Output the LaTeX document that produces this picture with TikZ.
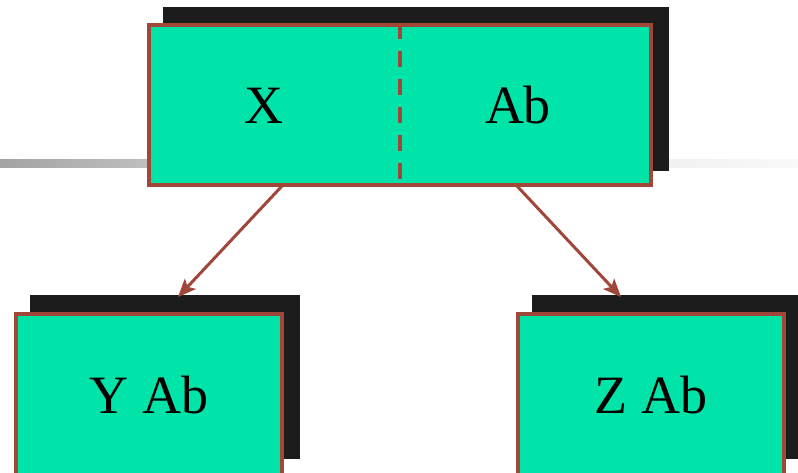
\documentclass[tikz,border=0pt]{standalone}
\usepackage{fontspec}
\setmainfont{Liberation Serif}
\usetikzlibrary{arrows.meta}
\definecolor{boxfill}{HTML}{00E4AA}
\definecolor{boxedge}{HTML}{A0473A}
\definecolor{shadowc}{HTML}{1C1C1C}
\definecolor{railA}{HTML}{A3A3A3}
\definecolor{railB}{HTML}{BFBFBF}
\definecolor{railC}{HTML}{F1F1F1}
\definecolor{railD}{HTML}{F9F9F9}
\tikzset{
  boxnode/.style={rectangle, draw=boxedge, fill=boxfill, line width=4pt, inner sep=0pt},
  shadownode/.style={rectangle, fill=shadowc, inner sep=0pt},
  label/.style={font=\fontsize{54}{60}\selectfont, anchor=base, inner sep=0pt},
  link/.style={draw=boxedge, line width=3pt, -{Stealth[length=18pt,width=15pt,inset=4pt]}},
  divider/.style={draw=boxedge, line width=4pt, dash pattern=on 16pt off 12pt}
}
\begin{document}
\begin{tikzpicture}[x=1pt,y=-1pt]
  \useasboundingbox (0,0) rectangle (798,472);
  % horizontal rail behind the top box
  \shade[left color=railA, right color=railB] (0,159) rectangle (149,167);
  \shade[left color=railC, right color=railD] (669,159) rectangle (798,167);

  % top box with its shadow
  \node[shadownode, minimum width=506pt, minimum height=164pt] (topsh) at (416,89) {};
  \node[boxnode, minimum width=502pt, minimum height=160pt] (top) at (400,105) {};
  \draw[divider] (top.north) -- (top.south);
  \node[label] (tx) at (264,123) {X};
  \node[label] (tab) at (518,123) {Ab};

  % lower left box
  \node[shadownode, minimum width=270pt, minimum height=164pt] (leftsh) at (165,377) {};
  \node[boxnode, minimum width=266pt, minimum height=164pt] (left) at (149,396) {};
  \node[label] (ly) at (149,413) {Y Ab};

  % lower right box
  \node[shadownode, minimum width=270pt, minimum height=164pt] (rightsh) at (667,377) {};
  \node[boxnode, minimum width=266pt, minimum height=164pt] (right) at (651,396) {};
  \node[label] (rz) at (651,413) {Z Ab};

  % connectors
  \coordinate (outL) at (282,186);
  \coordinate (inL) at (178,297);
  \coordinate (outR) at (517,186);
  \coordinate (inR) at (621,297);
  \draw[link] (outL) -- (inL);
  \draw[link] (outR) -- (inR);
\end{tikzpicture}
\end{document}
